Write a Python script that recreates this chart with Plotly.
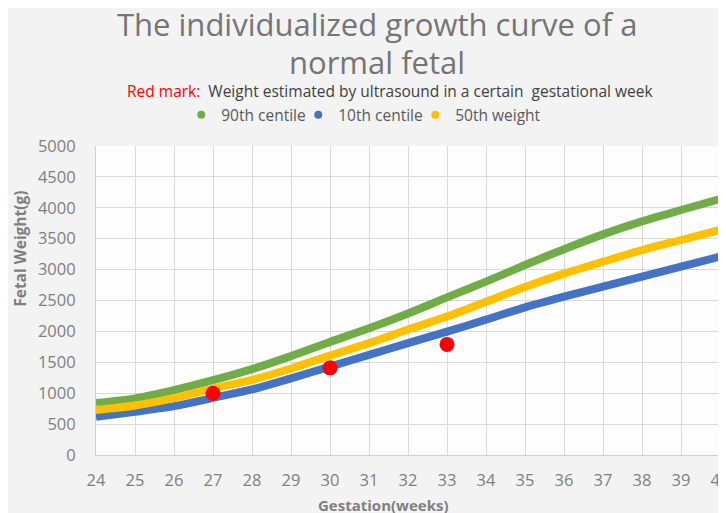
import plotly.graph_objects as go

weeks = [24, 25, 26, 27, 28, 29, 30, 31, 32, 33, 34, 35, 36, 37, 38, 39, 40]
p90 = [841, 917, 1050, 1210, 1390, 1600, 1830, 2050, 2290, 2550, 2805, 3074, 3330, 3570, 3780, 3964, 4142]
p10 = [620, 700, 790, 925, 1060, 1240, 1430, 1620, 1810, 1995, 2190, 2390, 2562, 2724, 2886, 3047, 3209]
p50 = [728, 800, 920, 1075, 1215, 1400, 1610, 1810, 2030, 2240, 2480, 2720, 2935, 3128, 3317, 3479, 3641]
us_weeks = [27, 30, 33]
us_weight = [1000, 1410, 1790]

GREEN = "#70AD47"
BLUE = "#4472C4"
YELLOW = "#FFC000"
RED = "#FF0000"
FONT = "Open Sans"
GRAY = "#7f7f7f"

fig = go.Figure()
for name, vals, col in [("90th centile", p90, GREEN), ("10th centile", p10, BLUE), ("50th weight", p50, YELLOW)]:
    fig.add_trace(go.Scatter(x=weeks, y=vals, mode="lines", line=dict(color=col, width=8, shape="spline", smoothing=0.8),
                             showlegend=False, hoverinfo="x+y"))
    fig.add_trace(go.Scatter(x=[None], y=[None], mode="markers", name=name,
                             marker=dict(color=col, size=8, symbol="circle")))
# invisible spacer entry so the last legend label is not clipped
fig.add_trace(go.Scatter(x=[None], y=[None], mode="markers", name=" ",
                         marker=dict(color="rgba(0,0,0,0)", size=1)))
fig.add_trace(go.Scatter(x=us_weeks, y=us_weight, mode="markers", showlegend=False,
                         marker=dict(color=RED, size=15)))

fig.update_layout(
    width=718, height=505,
    margin=dict(l=88, r=6, t=138, b=58, autoexpand=False),
    paper_bgcolor="#f3f3f3",
    plot_bgcolor="#fdfdfd",
    font=dict(family=FONT, color=GRAY),
    legend=dict(orientation="h", x=0.1366, xanchor="left", y=1.10, yanchor="middle",
                font=dict(size=15.5, color="#595959"), bgcolor="rgba(0,0,0,0)",
                itemwidth=30, tracegroupgap=0, entrywidth=72, entrywidthmode="pixels"),
    xaxis=dict(range=[24, 40], dtick=1, tick0=24, showgrid=True, gridcolor="#d9d9d9", gridwidth=1,
               showline=True, linecolor="#cfcfcf", linewidth=1, zeroline=False, ticklabeloverflow="allow",
               automargin=False,
               tickfont=dict(size=16.5, color=GRAY), ticks="", ticklabelstandoff=10),
    yaxis=dict(range=[0, 5000], dtick=500, showgrid=True, gridcolor="#d9d9d9", gridwidth=1,
               showline=True, linecolor="#cfcfcf", linewidth=1, zeroline=False, automargin=False,
               tickfont=dict(size=16.5, color=GRAY), ticks="", ticklabelstandoff=16),
    annotations=[
        dict(text="The individualized growth curve of a", x=0.45, y=1.395, xref="paper", yref="paper",
             showarrow=False, font=dict(size=31, color="#757575", family=FONT), xanchor="center", yanchor="middle"),
        dict(text="normal fetal", x=0.45, y=1.272, xref="paper", yref="paper",
             showarrow=False, font=dict(size=31, color="#757575", family=FONT), xanchor="center", yanchor="middle"),
        dict(text="<span style='color:#ff0000'>Red mark:</span>  Weight estimated by ultrasound in a certain  gestational week",
             x=0.471, y=1.178, xref="paper", yref="paper", showarrow=False,
             font=dict(size=15.5, color="#404040", family=FONT), xanchor="center", yanchor="middle"),
        dict(text="<b>Fetal Weight(g)</b>", x=-0.122, y=0.667, xref="paper", yref="paper", textangle=-90,
             showarrow=False, font=dict(size=15.5, color=GRAY, family=FONT), xanchor="center", yanchor="middle"),
        dict(text="<b>Gestation(weeks)</b>", x=0.46, y=-0.162, xref="paper", yref="paper",
             showarrow=False, font=dict(size=15, color=GRAY, family=FONT), xanchor="center", yanchor="middle"),
    ],
)

fig.write_html("out.html")
